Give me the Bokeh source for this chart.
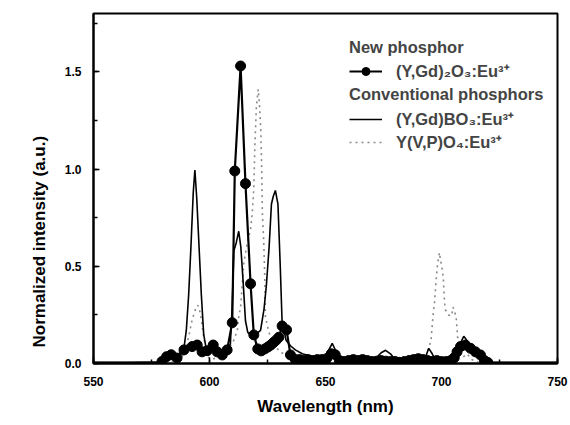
from bokeh.plotting import figure
from bokeh.models import (Legend, LegendItem, SingleIntervalTicker, Range1d,
                          ColumnDataSource, PrintfTickFormatter, Title)
from bokeh.embed import file_html
from bokeh.resources import INLINE

# ---- data ----
# New phosphor (Y,Gd)2O3:Eu3+ (thick line with filled circles)
new_wl = [550, 565, 577, 579.5, 581.5, 583.5, 586, 589, 592.5, 594.7, 596.8, 599,
          601.6, 603.3, 605.5, 607.6, 609.8, 610.9, 613.4, 615.5, 617.7, 619.1,
          620.8, 622.3, 623.8, 625.2, 626.4, 627.6, 628.7, 629.9, 631.3, 633.2,
          634.9, 637, 638.8, 640.6, 642.5, 644.5, 646.5, 648.5, 650.5, 652.5,
          654.2, 656, 658, 660, 662, 664, 666, 668, 670, 672, 674, 676, 678, 680,
          682, 684, 686, 688, 690, 692, 694, 696, 698, 700, 702, 704, 705.5,
          706.7, 708.2, 710.3, 712.5, 714.6, 716.8, 718.5, 720, 735, 750]
new_int = [0.005, 0.005, 0.005, 0.01, 0.035, 0.045, 0.028, 0.07, 0.087, 0.095,
           0.06, 0.066, 0.095, 0.06, 0.044, 0.07, 0.21, 0.99, 1.53, 0.925, 0.41,
           0.147, 0.075, 0.065, 0.075, 0.085, 0.095, 0.108, 0.12, 0.135, 0.193,
           0.173, 0.044, 0.02, 0.02, 0.015, 0.02, 0.015, 0.02, 0.02, 0.025, 0.05,
           0.045, 0.015, 0.01, 0.015, 0.02, 0.015, 0.02, 0.015, 0.01, 0.012,
           0.015, 0.012, 0.01, 0.01, 0.006, 0.01, 0.015, 0.02, 0.025, 0.02,
           0.015, 0.01, 0.015, 0.01, 0.01, 0.015, 0.03, 0.06, 0.087, 0.095,
           0.078, 0.06, 0.044, 0.015, 0.005, 0.005, 0.005]
new_marker_from, new_marker_to = 579, 720

# Conventional (Y,Gd)BO3:Eu3+ (thin solid line)
bo3_wl = [550, 565, 578, 581, 584, 587, 589, 590, 591, 592, 593, 593.7, 594.5,
          595.5, 596.5, 597.5, 598.5, 600, 602, 604, 606, 607.5, 609, 609.8,
          610.5, 611.5, 612.6, 613.5, 614.5, 615.5, 616.5, 618, 620, 622, 623.5,
          624.5, 625.7, 626.7, 627.5, 628.4, 629.5, 630.5, 631.3, 633, 635, 637,
          640, 643, 646, 649, 651, 652.9, 655, 657, 660, 665, 670, 672, 674,
          675.9, 678, 680, 683, 687, 690, 692.7, 694.5, 696, 697.5, 700, 703,
          706, 707.5, 709.6, 711.5, 713, 715, 717, 720, 735, 750]
bo3_int = [0.005, 0.005, 0.008, 0.02, 0.03, 0.05, 0.08, 0.17, 0.35, 0.6, 0.88,
           0.995, 0.85, 0.6, 0.35, 0.15, 0.08, 0.07, 0.08, 0.07, 0.06, 0.07,
           0.1, 0.3, 0.58, 0.62, 0.68, 0.6, 0.42, 0.22, 0.16, 0.145, 0.15, 0.17,
           0.28, 0.4, 0.6, 0.82, 0.86, 0.89, 0.82, 0.5, 0.21, 0.12, 0.09, 0.07,
           0.05, 0.04, 0.035, 0.03, 0.06, 0.104, 0.05, 0.03, 0.025, 0.02, 0.02,
           0.03, 0.055, 0.068, 0.05, 0.02, 0.01, 0.01, 0.015, 0.02, 0.078, 0.05,
           0.015, 0.01, 0.01, 0.02, 0.09, 0.14, 0.11, 0.08, 0.05, 0.02, 0.005,
           0.005, 0.005]

# Conventional Y(V,P)O4:Eu3+ (grey dotted line)
vpo_wl = [550, 580, 585, 588, 590, 591, 592.5, 594, 595, 596.1, 597.5, 599, 601,
          603, 605, 607, 608.5, 610.5, 612, 612.6, 613.4, 614.8, 616.3, 617.7,
          618.4, 619.1, 619.5, 620.2, 621, 621.6, 622.1, 622.5, 622.8, 623.4,
          623.8, 624.1, 625.6, 628, 630.6, 633, 636, 640, 650, 690, 693, 695.5,
          696.3, 697, 697.7, 698.3, 699.1, 699.9, 700.4, 700.8, 701.3, 701.7,
          703, 704.3, 705, 706.3, 707.5, 709, 711, 713, 716, 750]
vpo_int = [0.003, 0.003, 0.01, 0.03, 0.08, 0.138, 0.224, 0.28, 0.30, 0.258, 0.138,
           0.035, 0.02, 0.03, 0.025, 0.04, 0.08, 0.12, 0.17, 0.24, 0.29, 0.52,
           0.62, 0.69, 0.77, 0.9, 1.1, 1.32, 1.41, 1.32, 1.2, 1.0, 0.77, 0.62,
           0.45, 0.24, 0.16, 0.09, 0.06, 0.04, 0.02, 0.01, 0.005, 0.005, 0.02,
           0.12, 0.24, 0.315, 0.43, 0.51, 0.57, 0.51, 0.476, 0.435, 0.315, 0.276,
           0.25, 0.245, 0.29, 0.24, 0.05, 0.03, 0.05, 0.02, 0.005, 0.003]

x_ticks_interval = 50
y_ticks_interval = 0.5

label_new = "(Y,Gd)\u2082O\u2083:Eu\u00b3\u207a"
label_bo3 = "(Y,Gd)BO\u2083:Eu\u00b3\u207a"
label_vpo = "Y(V,P)O\u2084:Eu\u00b3\u207a"
x_title = "Wavelength (nm)"
y_title = "Normalized intensity (a.u.)"

FONT = "Liberation Sans"

p = figure(frame_width=464, frame_height=350, output_backend="svg",
           toolbar_location=None, x_range=Range1d(550, 750),
           y_range=Range1d(0, 1.8),
           min_border_left=93, min_border_right=13, min_border_top=13,
           min_border_bottom=62)
p.background_fill_color = "white"
p.border_fill_color = "white"
p.xgrid.visible = False
p.ygrid.visible = False
p.outline_line_color = "black"
p.outline_line_width = 2

p.xaxis.ticker = SingleIntervalTicker(interval=x_ticks_interval, num_minor_ticks=2)
p.yaxis.ticker = SingleIntervalTicker(interval=y_ticks_interval, num_minor_ticks=2)
p.yaxis.formatter = PrintfTickFormatter(format="%.1f")

for ax in (p.xaxis, p.yaxis):
    ax.axis_line_width = 2
    ax.axis_line_color = "black"
    ax.major_tick_in = 6
    ax.major_tick_out = 0
    ax.minor_tick_in = 4
    ax.minor_tick_out = 0
    ax.major_tick_line_width = 1.5
    ax.minor_tick_line_width = 1.5
    ax.major_label_text_font = FONT
    ax.major_label_text_font_style = "bold"
    ax.major_label_text_font_size = "12px"
    ax.major_label_text_color = "black"
    ax.axis_label_text_font = FONT
    ax.axis_label_text_font_style = "bold"
    ax.axis_label_text_font_size = "17px"
    ax.axis_label_text_color = "black"

p.xaxis.axis_label = x_title
p.xaxis.major_label_standoff = 13
p.xaxis.axis_label_standoff = 8
p.yaxis.major_label_standoff = 12

# y title: placed in the left panel, a little below the frame centre
p.add_layout(Title(text=y_title, align="left", offset=16, standoff=25,
                   text_font=FONT, text_font_style="bold",
                   text_font_size="17px", text_color="black"), "left")

# sources
src_new = ColumnDataSource(dict(x=new_wl, y=new_int))
mk = [(w, v) for w, v in zip(new_wl, new_int) if new_marker_from <= w <= new_marker_to]
src_new_mk = ColumnDataSource(dict(x=[m[0] for m in mk], y=[m[1] for m in mk]))
src_bo3 = ColumnDataSource(dict(x=bo3_wl, y=bo3_int))
src_vpo = ColumnDataSource(dict(x=vpo_wl, y=vpo_int))

GREY = "#8a8a8a"
r_vpo = p.line("x", "y", source=src_vpo, line_color=GREY, line_width=1.6,
               line_dash="2 4")
r_vpo_mk = p.scatter("x", "y", source=ColumnDataSource(dict(x=[], y=[])),
                     size=4, color=GREY)
r_bo3 = p.line("x", "y", source=src_bo3, line_color="black", line_width=1.6)
r_new = p.line("x", "y", source=src_new, line_color="black", line_width=2.2)
r_new_mk = p.scatter("x", "y", source=src_new_mk, size=10, color="black")

common = dict(label_text_font=FONT, label_text_font_style="bold",
              label_text_font_size="16.5px", title_text_font=FONT,
              title_text_font_style="bold", title_text_font_size="16.5px",
              glyph_width=33, glyph_height=20, label_standoff=14, padding=0,
              margin=0, border_line_alpha=0, background_fill_alpha=0,
              label_height=20)

leg1 = Legend(items=[LegendItem(label=label_new, renderers=[r_new, r_new_mk])],
              title="New phosphor", location=(256, 281), spacing=0,
              title_standoff=2, **common)
leg2 = Legend(items=[LegendItem(label=label_bo3, renderers=[r_bo3]),
                     LegendItem(label=label_vpo, renderers=[r_vpo, r_vpo_mk])],
              title="Conventional phosphors", location=(256, 210), spacing=-2,
              title_standoff=3, **common)
p.add_layout(leg1)
p.add_layout(leg2)

open("out.html", "w").write(file_html(p, INLINE))
